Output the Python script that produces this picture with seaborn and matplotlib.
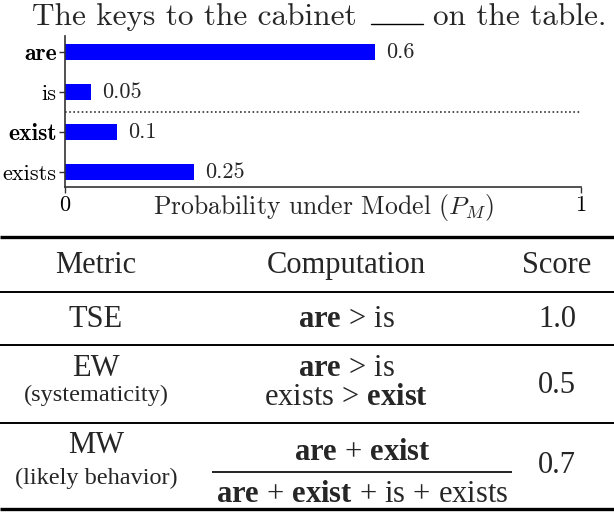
"""
Bar chart of model probabilities for the verb in a cloze sentence,
with a small table of metrics computed from those probabilities.
"""

import matplotlib
matplotlib.use("Agg")
import matplotlib.pyplot as plt
import pandas as pd
import seaborn as sns

# ── data ─────────────────────────────────────────────
sentence_left = "The keys to the cabinet"
sentence_right = "on the table."
words = ["are", "is", "exist", "exists"]
probs = [0.6, 0.05, 0.1, 0.25]
bold_words = ["are", "exist"]

metrics = ["TSE", "EW", "MW"]
metric_notes = ["", "(systematicity)", "(likely behavior)"]
scores = [1.0, 0.5, 0.7]
headers = ["Metric", "Computation", "Score"]

sns.set_style("ticks")
plt.rcParams["font.family"] = ["cmr10", "DejaVu Serif"]
plt.rcParams["axes.formatter.use_mathtext"] = True
plt.rcParams["mathtext.fontset"] = "custom"
plt.rcParams["mathtext.rm"] = "Liberation Serif"
plt.rcParams["mathtext.bf"] = "Liberation Serif:bold"
plt.rcParams["mathtext.it"] = "Liberation Serif:italic"

W, H = 614, 512
fig = plt.figure(figsize=(W / 100, H / 100), dpi=100)

# ── bar chart ────────────────────────────────────────
ax = fig.add_axes([65 / W, 1 - 187 / H, (581 - 65) / W, (187 - 36) / H])
df = pd.DataFrame({"word": words, "prob": probs})
sns.barplot(data=df, x="prob", y="word", color="#0000ff", saturation=1,
            width=0.42, linewidth=0, ax=ax)
ax.bar_label(ax.containers[0], fmt="%g", padding=8, fontsize=16,
             family="cmr10")
ax.axhline(1.5, ls=(0, (1, 1.5)), color="#333333", lw=1.2)

ax.set_xlim(0, 1)
ax.set_ylim(3.375, -0.4)
ax.set_xticks([0, 1])
ax.set_xticklabels(["0", "1"], fontsize=16)
ax.set_ylabel("")
ax.set_xlabel(r"Probability under Model ($P_M$)", fontsize=18.5,
              math_fontfamily="cm")
ax.xaxis.set_label_coords(0.5, -0.035)
ax.tick_params(axis="both", length=4, width=1, colors="#333333",
               labelcolor="black")
ax.tick_params(axis="x", pad=2)
ax.tick_params(axis="y", labelsize=16, pad=2)
for lab in ax.get_yticklabels():
    if lab.get_text() in bold_words:
        lab.set_fontfamily("cmb10")
        lab.set_fontsize(17)
sns.despine(ax=ax)
for s in ["left", "bottom"]:
    ax.spines[s].set_color("#333333")
    ax.spines[s].set_linewidth(1.2)

# sentence with blank
fig.text(357 / W, 1 - 25 / H, sentence_left, fontsize=22.5, ha="right",
         va="baseline")
fig.text(433 / W, 1 - 25 / H, sentence_right, fontsize=22.5, ha="left",
         va="baseline")
fig.add_artist(plt.Line2D([371 / W, 423 / W], [1 - 24 / H, 1 - 24 / H],
                          color="black", lw=1))

# ── table ────────────────────────────────────────────
tab = fig.add_axes([0, 0, 1, 1])
tab.set_xlim(0, W)
tab.set_ylim(H, 0)
tab.axis("off")
tab.patch.set_visible(False)

serif = "Liberation Serif"
col_x = [96, 346, 557]
frac_x = 362
for y, lw in [(237, 2.4), (292, 1.4), (345, 1.4), (423, 1.4), (509, 2.4)]:
    tab.hlines(y, 0, W, color="black", lw=lw)

for x, h in zip(col_x, headers):
    tab.text(x, 273, h, fontsize=22, family=serif, ha="center", va="baseline")

computations = [
    [r"$\mathbf{are}\,>\,\mathrm{is}$"],
    [r"$\mathbf{are}\,>\,\mathrm{is}$",
     r"$\mathrm{exists}\,>\,\mathbf{exist}$"],
    [r"$\mathbf{are}\,+\,\mathbf{exist}$",
     r"$\mathbf{are}\,+\,\mathbf{exist}\,+\,\mathrm{is}\,+\,\mathrm{exists}$"],
]
comp_x = [col_x[1], col_x[1], frac_x]
metric_y = [[327], [376, 401], [453, 484]]
comp_y = [[327], [376, 405], [460, 502]]
score_y = [327, 393, 473]

for i, m in enumerate(metrics):
    tab.text(col_x[0], metric_y[i][0], m, fontsize=22, family=serif,
             ha="center", va="baseline")
    if metric_notes[i]:
        tab.text(col_x[0], metric_y[i][1], metric_notes[i], fontsize=17.5,
                 family=serif, ha="center", va="baseline")
    for s, y in zip(computations[i], comp_y[i]):
        tab.text(comp_x[i], y, s, fontsize=22, family=serif, ha="center",
                 va="baseline")
    tab.text(col_x[2], score_y[i], f"{scores[i]:.1f}", fontsize=22,
             family=serif, ha="center", va="baseline")

# fraction bar for MW
tab.hlines(472, 212, 512, color="black", lw=1.2)

fig.savefig("out.png", dpi=100)
